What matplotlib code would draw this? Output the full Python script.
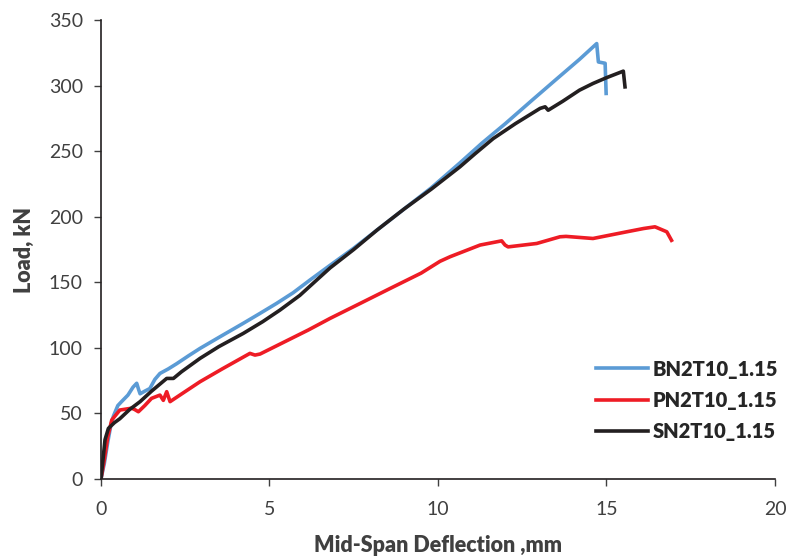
import matplotlib
matplotlib.use("Agg")
import matplotlib.pyplot as plt

plt.rcParams['font.family'] = ['Lato', 'DejaVu Sans']

# load-deflection curves (mm, kN)
bn_x = [0, 0.1, 0.2, 0.3, 0.37, 0.5, 0.61, 0.8, 0.95, 1.06, 1.12, 1.16, 1.3, 1.45,
        1.6, 1.75, 2.0, 2.25, 2.6, 2.94, 3.5, 4.22, 4.7, 5.21, 5.7, 6.2, 6.8, 7.5,
        8.2, 9.0, 9.8, 10.65, 11.3, 12.0, 12.8, 13.52, 14.2, 14.71, 14.76, 14.96, 14.99]
bn_y = [0, 12, 28, 42, 48, 56, 59, 64, 70, 73, 68, 65, 67, 69,
        76, 80.5, 84, 88, 94, 99.6, 108, 118.7, 126, 133.9, 142, 151.7, 163, 176,
        190, 206, 222, 241, 256, 271, 289, 305, 320, 332, 318, 317, 294]

pn_x = [0, 0.1, 0.2, 0.32, 0.56, 0.91, 1.0, 1.11, 1.3, 1.5, 1.75, 1.85, 1.95, 2.05,
        2.4, 2.94, 3.6, 4.42, 4.57, 4.72, 5.4, 6.15, 6.8, 7.7, 8.58, 9.5, 10.06,
        10.36, 11.25, 11.89, 11.99, 12.08, 12.93, 13.62, 13.8, 14.6, 15.6, 16.1,
        16.44, 16.79, 16.93]
pn_y = [0, 15, 32, 45, 52.6, 54, 53, 51.3, 56, 61.5, 64, 60, 66.6, 59,
        65, 74.2, 84, 95.8, 94.5, 95.3, 104, 113.6, 122.5, 134, 145.3, 157, 166,
        169.5, 178.4, 181.6, 178.4, 177, 179.6, 184.7, 185, 183.4, 188.5, 191,
        192.3, 188.5, 182]

sn_x = [0, 0.06, 0.12, 0.22, 0.4, 0.56, 0.85, 1.16, 1.5, 1.95, 2.15, 2.39, 2.94,
        3.5, 4.22, 4.8, 5.31, 5.9, 6.4, 6.8, 7.5, 8.2, 9.0, 9.8, 10.65, 11.1, 11.64,
        12.3, 13.03, 13.18, 13.27, 13.7, 14.2, 14.6, 15.0, 15.5, 15.55]
sn_y = [0, 15, 30, 38.6, 43, 46, 53, 59, 67, 76.7, 76.7, 81.8, 92,
        101, 111, 120, 128.8, 140, 151.7, 161, 175, 190, 206, 221, 238, 248, 259.6,
        271, 282.6, 283.8, 281.2, 288, 296.5, 301.6, 306, 311, 299]

fig = plt.figure(figsize=(7.92, 5.6), dpi=100)
ax = fig.add_axes([0.1275, 0.1446, 0.851, 0.8197])

ax.plot(bn_x, bn_y, color='#5B9BD5', lw=2.6, label='BN2T10_1.15')
ax.plot(pn_x, pn_y, color='#EE1C25', lw=2.6, label='PN2T10_1.15')
ax.plot(sn_x, sn_y, color='#231F20', lw=2.6, label='SN2T10_1.15')

ax.set_xlim(0, 20)
ax.set_ylim(0, 350)
ax.set_xticks([0, 5, 10, 15, 20])
ax.set_yticks(range(0, 351, 50))
ax.tick_params(direction='out', length=5, width=1, labelsize=14, colors='#404040',
               pad=8)
ax.tick_params(axis='x', pad=11)
for s in ['top', 'right']:
    ax.spines[s].set_visible(False)
for s in ['left', 'bottom']:
    ax.spines[s].set_color('#231F20')
    ax.spines[s].set_linewidth(1.2)

ax.set_xlabel('Mid-Span Deflection ,mm', fontsize=15.5, fontweight='heavy',
              color='#404040', labelpad=12)
ax.set_ylabel('Load, kN', fontsize=15.5, fontweight='heavy', color='#404040',
              labelpad=10)

leg = fig.legend(loc='upper left', bbox_to_anchor=(0.752, 0.358), frameon=False,
                 handlelength=2.6, handletextpad=0.25, labelspacing=0.62,
                 borderpad=0, borderaxespad=0,
                 prop={'size': 14.5, 'weight': 'heavy'})
for t in leg.get_texts():
    t.set_color('#262626')

fig.savefig('out.png', dpi=100)
